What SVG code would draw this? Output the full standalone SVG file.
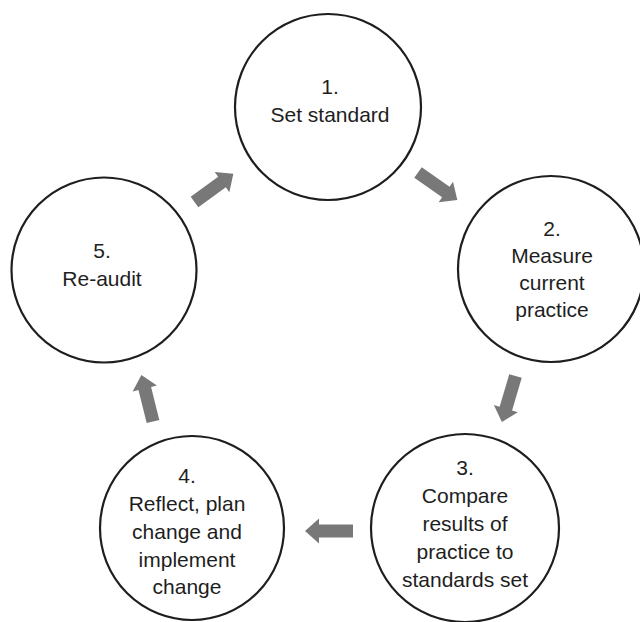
<svg xmlns="http://www.w3.org/2000/svg" xmlns:xlink="http://www.w3.org/1999/xlink" width="640" height="622" viewBox="0 0 640 622">
  <style>
    .stage { fill: #ffffff; stroke: #1e1e1e; stroke-width: 2.2; }
    .label { font-family: "Liberation Sans", Arial, Helvetica, sans-serif; font-size: 21px; fill: #1e1e1e; text-anchor: middle; }
    .flow { fill: #787878; }
  </style>
  <defs>
    <!-- block arrow pointing along +x, tail at origin -->
    <polygon id="blockArrow" points="0,-6.5 34,-6.5 34,-12.5 48,0 34,12.5 34,6.5 0,6.5"/>
  </defs>
  <rect x="0" y="0" width="640" height="622" fill="#ffffff"/>

  <g id="connectors" class="flow">
    <use xlink:href="#blockArrow" transform="translate(418,172.5) rotate(35)"/>
    <use xlink:href="#blockArrow" transform="translate(515.5,376) rotate(106.5)"/>
    <use xlink:href="#blockArrow" transform="translate(353,531) rotate(180)"/>
    <use xlink:href="#blockArrow" transform="translate(153,421.5) rotate(-104)"/>
    <use xlink:href="#blockArrow" transform="translate(194.5,202) rotate(-36)"/>
  </g>

  <g id="step1">
    <circle class="stage" cx="328" cy="107" r="93"/>
    <text class="label" x="330"><tspan x="330" y="94">1.</tspan><tspan x="330" y="122">Set standard</tspan></text>
  </g>

  <g id="step2">
    <circle class="stage" cx="551" cy="269" r="93"/>
    <text class="label"><tspan x="552" y="236">2.</tspan><tspan x="552" y="263">Measure</tspan><tspan x="552" y="290">current</tspan><tspan x="552" y="317">practice</tspan></text>
  </g>

  <g id="step3">
    <circle class="stage" cx="465" cy="528" r="94"/>
    <text class="label"><tspan x="465" y="475">3.</tspan><tspan x="465" y="503">Compare</tspan><tspan x="465" y="531">results of</tspan><tspan x="465" y="559">practice to</tspan><tspan x="465" y="587">standards set</tspan></text>
  </g>

  <g id="step4">
    <circle class="stage" cx="192" cy="528" r="92"/>
    <text class="label"><tspan x="187" y="483">4.</tspan><tspan x="187" y="511">Reflect, plan</tspan><tspan x="187" y="539">change and</tspan><tspan x="187" y="567">implement</tspan><tspan x="187" y="594">change</tspan></text>
  </g>

  <g id="step5">
    <circle class="stage" cx="104" cy="270" r="92.5"/>
    <text class="label"><tspan x="102" y="258">5.</tspan><tspan x="102" y="286">Re-audit</tspan></text>
  </g>
</svg>
